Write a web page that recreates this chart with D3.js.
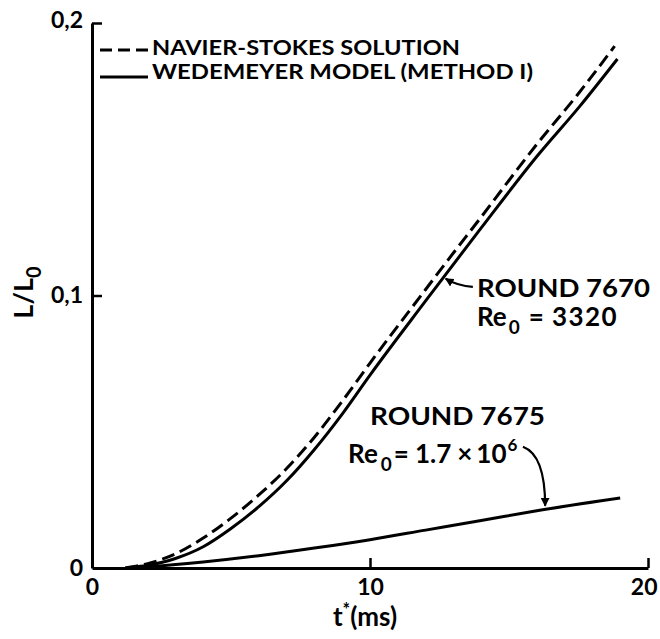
<!DOCTYPE html>
<html>
<head>
<meta charset="utf-8">
<script src="https://cdn.jsdelivr.net/npm/d3@7"></script>
<style>
  body { margin: 0; background: #fff; }
  text { font-family: Lato, "Open Sans", sans-serif; fill: #000; }
</style>
</head>
<body>
<div id="chart"></div>
<script>
// t* (ms) and L/L0
var nsTime  = [1.2, 2, 3, 4, 5, 6, 7, 8, 9, 10, 12, 12.63, 14, 16, 17.45, 18.8];
var nsValue = [0, 0.0016, 0.0052, 0.011, 0.0183, 0.0268, 0.0365, 0.048, 0.0612, 0.0752, 0.1022, 0.1107, 0.1288, 0.1555, 0.1735, 0.1915];

var wmTime  = [1.2, 2, 3, 4, 5, 6, 7, 8, 9, 10, 12, 12.63, 14, 16, 17.55, 18.9];
var wmValue = [0, 0.001, 0.0035, 0.0078, 0.0145, 0.0225, 0.032, 0.0435, 0.0565, 0.0708, 0.098, 0.1065, 0.1248, 0.151, 0.1695, 0.1868];

var lowTime  = [1.4, 2, 4, 6, 8, 10, 12, 14, 16, 19];
var lowValue = [0, 0.0004, 0.0022, 0.0045, 0.0073, 0.0104, 0.0139, 0.0174, 0.021, 0.0257];

var xTicks = [0, 10, 20];
var yTicks = [0, 0.1, 0.2];
var yTickLabels = ["0", "0,1", "0,2"];

var w = 660, h = 639;
var margin = { top: 23, right: 12, bottom: 71, left: 92 };

var svg = d3.select("#chart").append("svg")
  .attr("width", w)
  .attr("height", h);

var x = d3.scaleLinear().domain([0, 20]).range([margin.left, w - margin.right]);
var y = d3.scaleLinear().domain([0, 0.2]).range([h - margin.bottom, margin.top]);

function zip(ts, vs) {
  return ts.map(function(t, i) { return { t: t, v: vs[i] }; });
}

var line = d3.line()
  .x(function(d) { return x(d.t); })
  .y(function(d) { return y(d.v); })
  .curve(d3.curveMonotoneX);

// axes
var xAxis = svg.append("g")
  .attr("transform", "translate(0," + y(0) + ")")
  .call(d3.axisBottom(x).tickValues(xTicks).tickSizeInner(-10).tickSizeOuter(0).tickPadding(11));

var yAxis = svg.append("g")
  .attr("transform", "translate(" + x(0) + ",0)")
  .call(d3.axisLeft(y).tickValues(yTicks).tickSizeInner(-10).tickSizeOuter(0).tickPadding(9)
    .tickFormat(function(d, i) { return yTickLabels[i]; }));

[xAxis, yAxis].forEach(function(g) {
  g.select(".domain").attr("stroke", "#000").attr("stroke-width", 3);
  g.selectAll(".tick line").attr("stroke", "#000").attr("stroke-width", 2.5);
  g.selectAll(".tick text")
    .attr("font-size", 23)
    .attr("font-weight", 700)
    .attr("font-family", "Lato, sans-serif");
});
xAxis.selectAll(".tick").filter(function(d) { return d === 0; }).select("line").remove();
yAxis.selectAll(".tick").filter(function(d) { return d === 0; }).select("line").remove();
yAxis.selectAll(".tick").filter(function(d) { return d === 0.2; }).select("text").attr("dy", "0.2em");
xAxis.selectAll(".tick").filter(function(d) { return d === 20; }).select("text")
  .attr("text-anchor", "end").attr("x", 9);

// curves
svg.append("path")
  .datum(zip(nsTime, nsValue))
  .attr("fill", "none")
  .attr("stroke", "#000")
  .attr("stroke-width", 3)
  .attr("stroke-dasharray", "13,6")
  .attr("d", line);

svg.append("path")
  .datum(zip(wmTime, wmValue))
  .attr("fill", "none")
  .attr("stroke", "#000")
  .attr("stroke-width", 3)
  .attr("d", line);

svg.append("path")
  .datum(zip(lowTime, lowValue))
  .attr("fill", "none")
  .attr("stroke", "#000")
  .attr("stroke-width", 3)
  .attr("d", line);

// legend
var legend = svg.append("g").attr("font-weight", 700);
legend.append("line")
  .attr("x1", 100).attr("x2", 148).attr("y1", 50).attr("y2", 50)
  .attr("stroke", "#000").attr("stroke-width", 3).attr("stroke-dasharray", "12,6");
legend.append("line")
  .attr("x1", 100).attr("x2", 148).attr("y1", 77).attr("y2", 77)
  .attr("stroke", "#000").attr("stroke-width", 3);
legend.append("text").attr("x", 152).attr("y", 55)
  .attr("font-size", 21).attr("textLength", 308).attr("lengthAdjust", "spacingAndGlyphs")
  .text("NAVIER-STOKES SOLUTION");
legend.append("text").attr("x", 152).attr("y", 79)
  .attr("font-size", 21).attr("textLength", 381).attr("lengthAdjust", "spacingAndGlyphs")
  .text("WEDEMEYER MODEL (METHOD I)");

// annotations
var ann = svg.append("g").attr("font-weight", 700).attr("font-size", 24);

ann.append("text").attr("x", x(13.85)).attr("y", y(0.0996))
  .attr("textLength", 173).attr("lengthAdjust", "spacingAndGlyphs").text("ROUND 7670");
var re1 = ann.append("text").attr("x", x(13.85)).attr("y", y(0.0888)).attr("font-size", 26);
re1.append("tspan").text("Re");
re1.append("tspan").attr("dx", 2).attr("dy", 8).attr("font-size", 19).text("0");
re1.append("tspan").attr("dx", 9).attr("dy", -8).text("=");
re1.append("tspan").attr("dx", 8).attr("letter-spacing", 1.5).text("3320");

ann.append("text").attr("x", x(10.0)).attr("y", y(0.0526))
  .attr("textLength", 175).attr("lengthAdjust", "spacingAndGlyphs").text("ROUND 7675");
var re2 = ann.append("text").attr("x", x(9.21)).attr("y", y(0.0386)).attr("font-size", 26);
re2.append("tspan").text("Re");
re2.append("tspan").attr("dx", 3).attr("dy", 8).attr("font-size", 19).text("0");
re2.append("tspan").attr("dx", 2).attr("dy", -8).text("=");
re2.append("tspan").attr("dx", 6).text("1.7");
re2.append("tspan").attr("dx", 6).text("\u00d7");
re2.append("tspan").attr("dx", 4).text("10");
re2.append("tspan").attr("dx", 1).attr("dy", -12).attr("font-size", 17).text("6");

svg.append("defs").append("marker")
  .attr("id", "head")
  .attr("viewBox", "0 0 10 10")
  .attr("refX", 9).attr("refY", 5)
  .attr("markerWidth", 4).attr("markerHeight", 4)
  .attr("orient", "auto")
  .append("path").attr("d", "M0,0L10,5L0,10z").attr("fill", "#000");

function leader(t0, v0, tc, vc, t1, v1) {
  var p = d3.path();
  p.moveTo(x(t0), y(v0));
  p.quadraticCurveTo(x(tc), y(vc), x(t1), y(v1));
  return p.toString();
}

svg.append("path")
  .attr("d", leader(13.7, 0.1032, 13.15, 0.1035, 12.72, 0.1062))
  .attr("fill", "none").attr("stroke", "#000").attr("stroke-width", 2.2)
  .attr("marker-end", "url(#head)");

svg.append("path")
  .attr("d", leader(15.5, 0.0445, 16.3, 0.0415, 16.3, 0.0228))
  .attr("fill", "none").attr("stroke", "#000").attr("stroke-width", 2.2)
  .attr("marker-end", "url(#head)");

// axis titles
var xt = svg.append("text")
  .attr("x", x(10) - 5).attr("y", 626)
  .attr("text-anchor", "middle")
  .attr("font-size", 26).attr("font-weight", 700);
xt.append("tspan").text("t");
xt.append("tspan").attr("dy", -10).attr("font-size", 18).text("*");
xt.append("tspan").attr("dy", 10).text("(ms)");

var yt = svg.append("text")
  .attr("transform", "translate(33," + (y(0.1) - 3) + ") rotate(-90)")
  .attr("text-anchor", "middle")
  .attr("font-size", 27).attr("font-weight", 700);
yt.append("tspan").text("L/L");
yt.append("tspan").attr("dy", 8).attr("font-size", 20).text("0");
</script>
</body>
</html>
